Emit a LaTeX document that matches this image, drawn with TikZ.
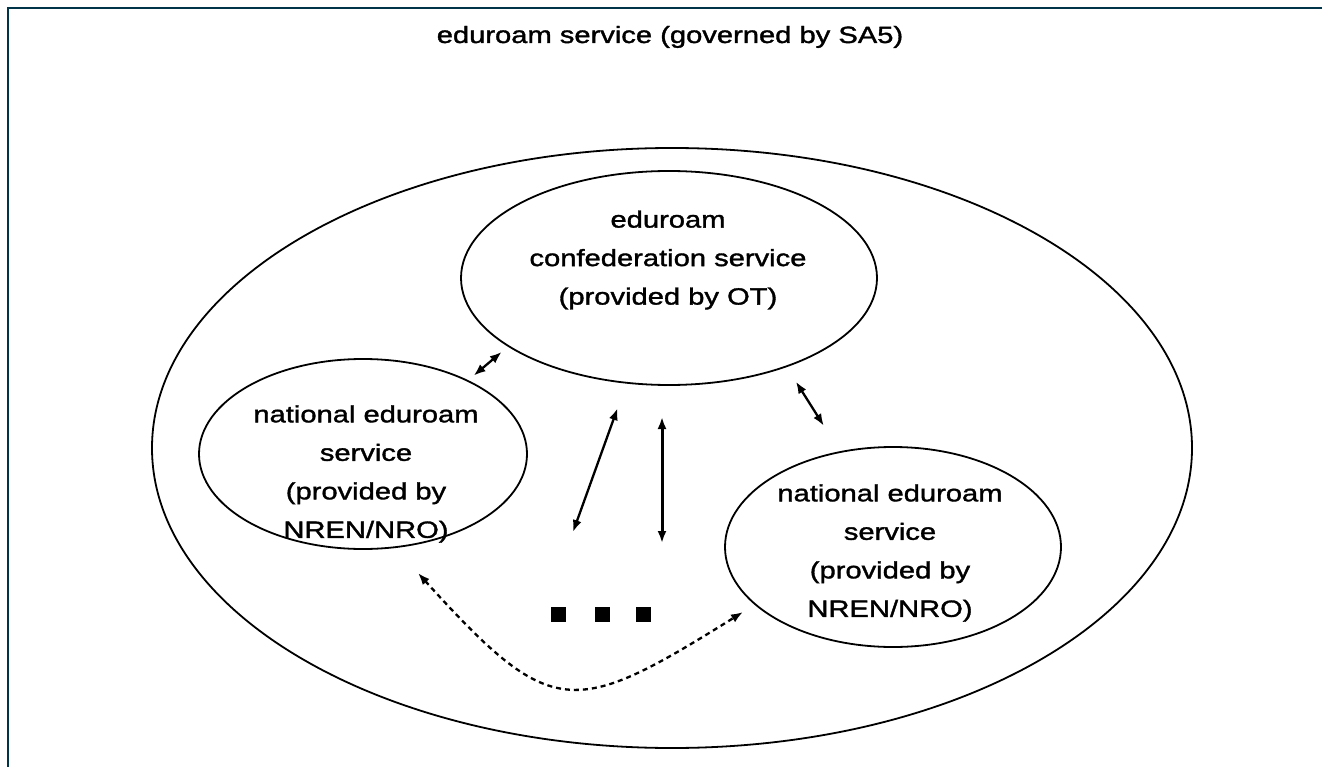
\documentclass[tikz,border=0pt]{standalone}
\usepackage{fontspec}
\setmainfont{Liberation Sans}[FakeStretch=1.24,FakeBold=1.5]
\usetikzlibrary{shapes.geometric,arrows.meta}
\definecolor{framecol}{RGB}{0,52,72}

\begin{document}
\begin{tikzpicture}[x=1pt,y=-1pt,>={Latex[length=12pt,width=9pt]},
		ring/.style={ellipse,draw,line width=1.8pt,inner sep=0pt,outer sep=0pt},
		caption/.style={align=center,font=\fontsize{23.5}{38.5}\selectfont},
		link/.style={<->,line width=2.3pt},
		dotlink/.style={<->,line width=2.3pt,dash pattern=on 5pt off 4pt},
		blob/.style={fill,minimum size=15pt,inner sep=0pt}]
	\useasboundingbox (0,0) rectangle (1322,767);
	\draw[framecol,line width=2pt] (8,767) -- (8,8) -- (1322,8);
	%
	% The whole service with its three parts.
	\node[caption,anchor=base] (title) at (670,43) {eduroam service (governed by SA5)};
	\node[ring,minimum width=1040pt,minimum height=600pt] (outer) at (672,448) {};
	\node[ring,minimum width=416pt,minimum height=214pt] (confed) at (669,278) {};
	\node[ring,minimum width=328pt,minimum height=190pt] (natleft) at (363,454) {};
	\node[ring,minimum width=336pt,minimum height=200pt] (natright) at (893,547) {};
	\node[caption] (confedtext) at (668,260) {eduroam\\confederation service\\(provided by OT)};
	\node[caption] (lefttext) at (366,474) {national eduroam\\service\\(provided by\\NREN/NRO)};
	\node[caption] (righttext) at (890,553) {national eduroam\\service\\(provided by\\NREN/NRO)};
	%
	% More national services.
	\foreach \x [count=\i] in {558,602,643}
		\node[blob] (dot\i) at (\x,614) {};
	\coordinate (low2) at (573,532);
	\coordinate (low3) at (662,543);
	\coordinate (endl) at (418,573);
	\coordinate (endr) at (743,612);
	%
	% Links between the services.
	\draw[link,shorten <=8pt,shorten >=9pt] (natleft.35.7) -- (confed.203.1);
	\draw[link,shorten <=27pt] (confed.248.2) -- (low2);
	\draw[link,line width=3pt,shorten <=32pt] (low3 |- confed.south) -- (low3);
	\draw[link,shorten <=18pt,shorten >=31pt] (confed.-37.4) -- (natright.119.8);
	\draw[dotlink] (endl) .. controls (552,721) and (573,718) .. (endr);
\end{tikzpicture}
\end{document}
